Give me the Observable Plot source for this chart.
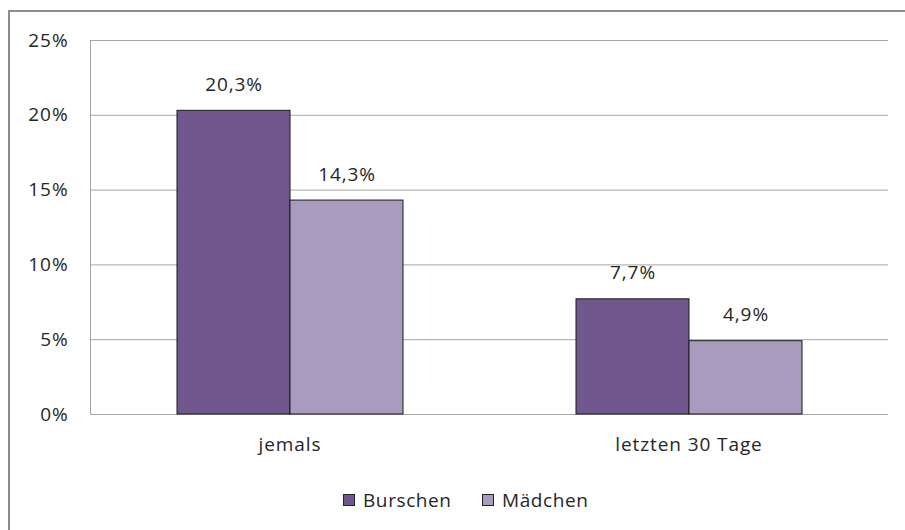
<!DOCTYPE html>
<html><head><meta charset="utf-8">
<script src="https://cdn.jsdelivr.net/npm/d3@7"></script>
<script src="https://cdn.jsdelivr.net/npm/@observablehq/plot@0.6"></script>
<style>
body{margin:0;background:#fff;font-family:"Open Sans",sans-serif}
#wrap{position:relative;width:905px;height:530px;overflow:hidden;background:#fff}
#border{position:absolute;left:8px;top:10px;width:1000px;height:1000px;border-left:2px solid #8c8c8c;border-top:2px solid #8c8c8c}
#chart{position:absolute;left:0;top:0}
#legend{position:absolute;top:488px;left:0;width:905px;height:24px;font-family:"Open Sans",sans-serif;font-size:19px;letter-spacing:0.6px;color:#262626}
.item{position:absolute;top:0;display:flex;align-items:center;height:24px}
.sw{width:10px;height:10px;border:1px solid #262626;margin-right:8px}
</style></head>
<body><div id="wrap"><div id="border"></div><div id="chart"></div><div id="legend"></div></div>
<script>
const categories = ["jemals", "letzten 30 Tage"];
const series = ["Burschen", "Mädchen"];
const burschen = [20.3, 7.7];
const maedchen = [14.3, 4.9];
const colors = ["#70588e", "#a99bbd"];
const yTicks = [0, 5, 10, 15, 20, 25];

const data = categories.flatMap((c, i) => [
  {cat: c, sex: series[0], value: burschen[i]},
  {cat: c, sex: series[1], value: maedchen[i]}
]);

const plot = Plot.plot({
  width: 905, height: 480,
  marginLeft: 90, marginRight: 17, marginTop: 40, marginBottom: 66,
  style: {fontFamily: "'Open Sans', sans-serif", fontSize: "19px", letterSpacing: "0.9px", color: "#262626", background: "transparent"},
  fx: {domain: categories, padding: 0},
  x: {domain: series, paddingInner: 0, paddingOuter: 0.76, axis: null},
  y: {domain: [0, 25]},
  color: {domain: series, range: colors},
  marks: [
    Plot.gridY(yTicks, {stroke: "#a6a6a6", strokeOpacity: 1}),
    Plot.frame({anchor: "left", facetAnchor: "left", stroke: "#a6a6a6"}),
    Plot.axisY(yTicks, {tickSize: 0, tickPadding: 22, tickFormat: d => d + "%", label: null}),
    Plot.barY(data, {fx: "cat", x: "sex", y: "value", fill: "sex", stroke: "#1a1a1a", strokeWidth: 1}),
    Plot.text(data, {fx: "cat", x: "sex", y: "value", text: d => d.value.toFixed(1).replace(".", ",") + "%", dy: -26}),
    Plot.axisFx({anchor: "bottom", tickSize: 0, tickPadding: 23, label: null})
  ]
});
document.getElementById("chart").appendChild(plot);

const legend = document.getElementById("legend");
const legendX = [343, 482];
series.forEach((s, i) => {
  const it = document.createElement("div");
  it.className = "item";
  it.style.left = legendX[i] + "px";
  const sw = document.createElement("div");
  sw.className = "sw";
  sw.style.background = colors[i];
  const t = document.createElement("span");
  t.textContent = s;
  it.appendChild(sw); it.appendChild(t);
  legend.appendChild(it);
});
</script></body></html>
